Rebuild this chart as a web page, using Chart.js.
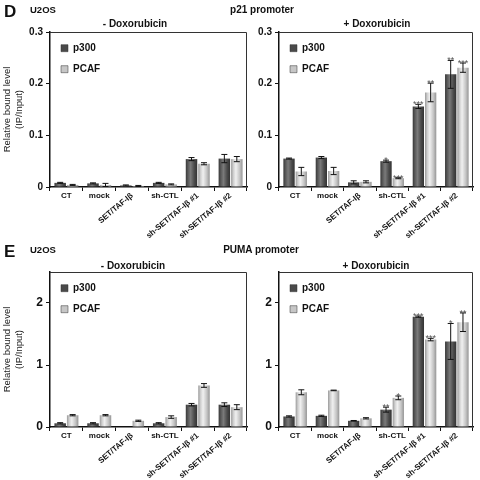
<!DOCTYPE html>
<html>
<head>
<meta charset="utf-8">
<script src="https://cdn.jsdelivr.net/npm/chart.js@4/dist/chart.umd.min.js"></script>
<style>
  html, body { margin: 0; padding: 0; background: #fff; }
  #wrap { position: relative; width: 480px; height: 480px; overflow: hidden; font-family: "Liberation Sans", Arial, sans-serif; color: #111; }
  canvas { position: absolute; }
  .t { position: absolute; font-weight: bold; white-space: nowrap; line-height: 1; }
  .c { transform: translate(-50%, -50%); }
  .l { transform: translate(0, -50%); }
</style>
</head>
<body>
<div id="wrap">
  <canvas id="dMinus" width="250" height="240" style="left:0;top:15px"></canvas>
  <canvas id="dPlus" width="230" height="240" style="left:250px;top:15px"></canvas>
  <canvas id="eMinus" width="250" height="225" style="left:0;top:255px"></canvas>
  <canvas id="ePlus" width="230" height="225" style="left:250px;top:255px"></canvas>

  <div class="t l" style="left:4px;top:11px;font-size:17px">D</div>
  <div class="t l" style="left:30px;top:10px;font-size:9.5px">U2OS</div>
  <div class="t c" style="left:262px;top:10px;font-size:10px">p21 promoter</div>
  <div class="t c" style="left:135px;top:24px;font-size:10px">- Doxorubicin</div>
  <div class="t c" style="left:377px;top:24px;font-size:10px">+ Doxorubicin</div>

  <div class="t l" style="left:4px;top:251px;font-size:17px">E</div>
  <div class="t l" style="left:30px;top:250px;font-size:9.5px">U2OS</div>
  <div class="t c" style="left:261px;top:250px;font-size:10px">PUMA promoter</div>
  <div class="t c" style="left:133px;top:266px;font-size:10px">- Doxorubicin</div>
  <div class="t c" style="left:376px;top:266px;font-size:10px">+ Doxorubicin</div>
</div>
<script>
// ---------------- DATA ----------------
const categories = ['CT', 'mock', 'SET/TAF-Iβ', 'sh-CTL', 'sh-SET/TAF-Iβ #1', 'sh-SET/TAF-Iβ #2'];
const flatLabels = ['CT', 'mock', '', 'sh-CTL', '', ''];
const rotatedLabels = ['', '', 'SET/TAF-Iβ', '', 'sh-SET/TAF-Iβ #1', 'sh-SET/TAF-Iβ #2'];
const seriesNames = ['p300', 'PCAF'];

// D: p21 promoter, - Doxorubicin
const dMinusP300 = [0.008, 0.007, 0.003, 0.008, 0.054, 0.055];
const dMinusP300Err = [0.001, 0.001, 0.001, 0.001, 0.003, 0.008];
const dMinusPCAF = [0.004, 0.004, 0.002, 0.005, 0.045, 0.054];
const dMinusPCAFErr = [0.001, 0.003, 0.001, 0.001, 0.002, 0.005];
// D: p21 promoter, + Doxorubicin
const dPlusP300 = [0.055, 0.057, 0.009, 0.050, 0.156, 0.218];
const dPlusP300Err = [0.001, 0.002, 0.003, 0.002, 0.004, 0.027];
const dPlusPCAF = [0.030, 0.031, 0.010, 0.017, 0.183, 0.231];
const dPlusPCAFErr = [0.008, 0.007, 0.002, 0.001, 0.018, 0.009];
const dPlusP300Stars = ['', '', '', '*', '***', '**'];
const dPlusPCAFStars = ['', '', '', '***', '**', '***'];

// E: PUMA promoter, - Doxorubicin
const eMinusP300 = [0.06, 0.06, 0, 0.06, 0.36, 0.36];
const eMinusP300Err = [0.01, 0.01, 0, 0.01, 0.02, 0.03];
const eMinusPCAF = [0.19, 0.19, 0.10, 0.16, 0.67, 0.32];
const eMinusPCAFErr = [0.01, 0.01, 0.01, 0.02, 0.03, 0.04];
// E: PUMA promoter, + Doxorubicin
const ePlusP300 = [0.17, 0.18, 0.10, 0.28, 1.78, 1.38];
const ePlusP300Err = [0.01, 0.01, 0.005, 0.04, 0.01, 0.29];
const ePlusPCAF = [0.56, 0.59, 0.14, 0.47, 1.41, 1.69];
const ePlusPCAFErr = [0.04, 0.005, 0.01, 0.03, 0.02, 0.15];
const ePlusP300Stars = ['', '', '', '**', '***', '*'];
const ePlusPCAFStars = ['', '', '', '*', '***', '**'];

const dTicks = { max: 0.3, step: 0.1 };
const eTicks = { max: 2.5, step: 1 };

// ---------------- STYLE ----------------
const FONT = '"Liberation Sans", Arial, sans-serif';
const CAT_PCT = 0.76, BAR_PCT = 0.92;
const shades = [
  ['#383838', '#5a5a5a', '#7a7a7a', '#4a4a4a', '#333333'],
  ['#9a9a9a', '#cfcfcf', '#f0f0f0', '#c4c4c4', '#959595']
];
const solid = ['#4a4a4a', '#c6c6c6'];

function barFill(ctx) {
  if (ctx.type !== 'data') return solid[ctx.datasetIndex];
  const chart = ctx.chart, xs = chart.scales.x;
  if (!xs || !xs.width) return solid[ctx.datasetIndex];
  const n = categories.length;
  const cw = xs.width / n, group = cw * CAT_PCT, slot = group / 2, bw = slot * BAR_PCT;
  const cx = xs.getPixelForValue(ctx.dataIndex) - group / 2 + slot * (ctx.datasetIndex + 0.5);
  const g = chart.ctx.createLinearGradient(cx - bw / 2, 0, cx + bw / 2, 0);
  const s = shades[ctx.datasetIndex];
  g.addColorStop(0, s[0]); g.addColorStop(0.2, s[1]); g.addColorStop(0.42, s[2]);
  g.addColorStop(0.75, s[3]); g.addColorStop(1, s[4]);
  return g;
}

const errPlugin = {
  id: 'errbars',
  afterDatasetsDraw(chart, args, opts) {
    const c = chart.ctx, ys = chart.scales.y;
    c.save();
    chart.data.datasets.forEach((ds, i) => {
      const meta = chart.getDatasetMeta(i);
      const errs = opts.errors[i] || [];
      const stars = (opts.stars || [])[i] || [];
      meta.data.forEach((el, j) => {
        const v = ds.data[j], e = errs[j] || 0;
        let topY = ys.getPixelForValue(v);
        if (e > 0) {
          const y1 = ys.getPixelForValue(v + e), y2 = ys.getPixelForValue(v - e);
          c.strokeStyle = '#111'; c.lineWidth = 1;
          c.beginPath();
          c.moveTo(el.x, y1); c.lineTo(el.x, y2);
          c.moveTo(el.x - 3, y1); c.lineTo(el.x + 3, y1);
          c.moveTo(el.x - 3, y2); c.lineTo(el.x + 3, y2);
          c.stroke();
          topY = Math.min(topY, y1);
        }
        if (stars[j]) {
          c.fillStyle = '#555';
          c.font = '9px ' + FONT;
          c.textAlign = 'center'; c.textBaseline = 'alphabetic';
          c.fillText(stars[j], el.x, topY + 3);
        }
      });
    });
    c.restore();
  }
};

const framePlugin = {
  id: 'frame',
  afterDatasetsDraw(chart) {
    const a = chart.chartArea, c = chart.ctx;
    c.save();
    c.strokeStyle = '#333'; c.lineWidth = 1;
    c.beginPath();
    c.moveTo(a.left, a.top + 0.5); c.lineTo(a.right - 0.5, a.top + 0.5); c.lineTo(a.right - 0.5, a.bottom);
    c.stroke();
    c.restore();
  }
};

function makeChart(id, p300, p300Err, pcaf, pcafErr, p300Stars, pcafStars, ticks, isLeft, yFontSize, bottomPad) {
  return new Chart(document.getElementById(id), {
    type: 'bar',
    data: {
      labels: flatLabels,
      datasets: [
        { label: seriesNames[0], data: p300, backgroundColor: barFill, borderWidth: 0,
          categoryPercentage: CAT_PCT, barPercentage: BAR_PCT },
        { label: seriesNames[1], data: pcaf, backgroundColor: barFill, borderWidth: 0,
          categoryPercentage: CAT_PCT, barPercentage: BAR_PCT }
      ]
    },
    options: {
      responsive: false,
      animation: false,
      events: [],
      layout: { padding: { left: 0, top: 17, right: isLeft ? 3 : 7, bottom: bottomPad } },
      scales: {
        x: {
          type: 'category',
          offset: true,
          grid: { display: true, drawOnChartArea: false, offset: true, tickLength: 4, color: '#111', tickWidth: 1 },
          border: { display: true, color: '#111', width: 1.5 },
          ticks: { autoSkip: false, maxRotation: 0, minRotation: 0, padding: 0, color: '#111',
                   font: { family: FONT, size: 8, weight: 'bold' } },
          afterFit: s => { s.height = 53; }
        },
        x2: {
          type: 'category',
          position: { y: 0 },
          labels: rotatedLabels,
          offset: true,
          grid: { display: false },
          border: { display: false },
          ticks: { autoSkip: false, maxRotation: 40, minRotation: 40, padding: -4, color: '#111',
                   font: { family: FONT, size: 8, weight: 'bold' } }
        },
        y: {
          min: 0, max: ticks.max,
          grid: { display: true, drawOnChartArea: false, tickLength: 4, color: '#111' },
          border: { display: true, color: '#111', width: 1.5 },
          ticks: { stepSize: ticks.step, includeBounds: false, padding: 3, color: '#111',
                   font: { family: FONT, size: yFontSize, weight: 'bold' } },
          title: { display: isLeft, text: ['Relative bound level', '(IP/Input)'], color: '#222',
                   padding: { top: 2, bottom: 0 },
                   font: { family: FONT, size: 9.5, weight: 'normal', lineHeight: 1.2 } },
          afterFit: s => { s.width = isLeft ? 50 : 29; }
        }
      },
      plugins: {
        title: { display: false },
        tooltip: { enabled: false },
        legend: {
          display: true,
          position: 'chartArea',
          align: 'start',
          title: { display: true, text: '', padding: { top: 16, bottom: 0 }, font: { size: 1 } },
          labels: {
            boxWidth: 7, boxHeight: 7, padding: 11, color: '#111',
            font: { family: FONT, size: 10, weight: 'bold' },
            generateLabels: () => seriesNames.map((n, i) => ({
              text: n, fillStyle: solid[i], strokeStyle: '#333', lineWidth: 0.5,
              datasetIndex: i, hidden: false, fontColor: '#111'
            }))
          }
        },
        errbars: { errors: [p300Err, pcafErr], stars: [p300Stars, pcafStars] }
      }
    },
    plugins: [errPlugin, framePlugin]
  });
}

makeChart('dMinus', dMinusP300, dMinusP300Err, dMinusPCAF, dMinusPCAFErr, [], [], dTicks, true, 10, 15);
makeChart('dPlus', dPlusP300, dPlusP300Err, dPlusPCAF, dPlusPCAFErr, dPlusP300Stars, dPlusPCAFStars, dTicks, false, 10, 15);
makeChart('eMinus', eMinusP300, eMinusP300Err, eMinusPCAF, eMinusPCAFErr, [], [], eTicks, true, 12, 0);
makeChart('ePlus', ePlusP300, ePlusP300Err, ePlusPCAF, ePlusPCAFErr, ePlusP300Stars, ePlusPCAFStars, eTicks, false, 12, 0);
</script>
</body>
</html>
